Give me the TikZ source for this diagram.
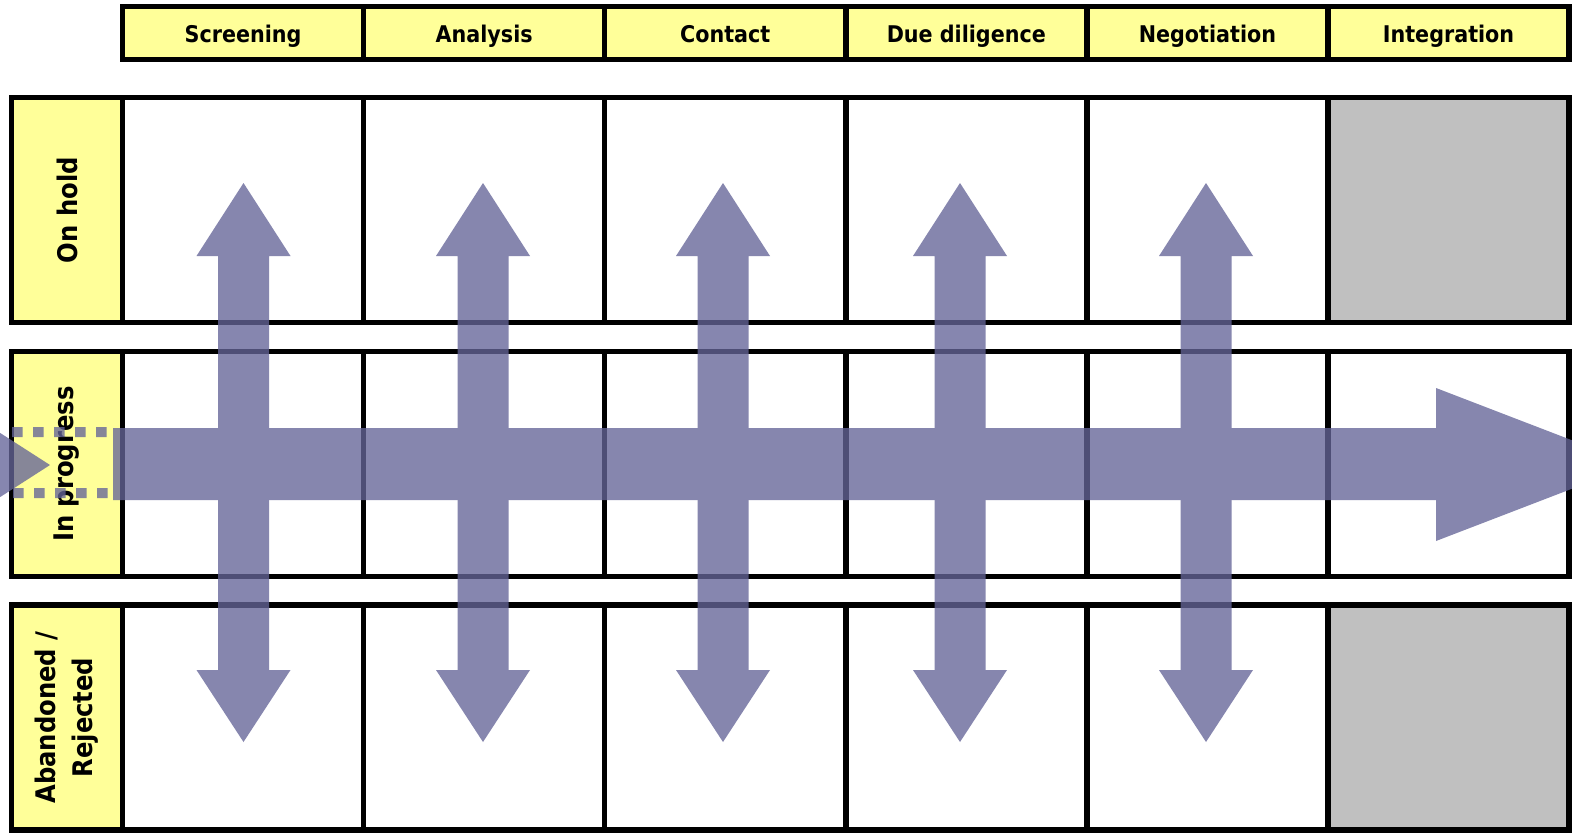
\documentclass[tikz,border=0pt]{standalone}
\usepackage{fontspec}
\setmainfont{DejaVu Sans Condensed}
\usetikzlibrary{calc}
\definecolor{hdrY}{HTML}{FFFF99}
\definecolor{grayC}{HTML}{C0C0C0}
\definecolor{arrC}{RGB}{100,100,152}
\begin{document}
\begin{tikzpicture}[x=1pt,y=-1pt,
  hdrcell/.style={draw=black, line width=5.5pt, fill=hdrY, minimum width=241.1pt, minimum height=53pt,
    inner sep=0pt, outer sep=0pt, anchor=north west, text height=17pt, text depth=0pt,
    font=\bfseries\fontsize{23}{27}\selectfont},
  cellbox/.style={draw=black, line width=5.5pt, fill=white, minimum width=241.1pt, minimum height=225pt,
    inner sep=0pt, outer sep=0pt, anchor=north west},
  lanebox/.style={draw=black, line width=5.5pt, fill=hdrY, minimum width=225pt, minimum height=111pt,
    inner sep=0pt, outer sep=0pt, rotate=90, align=center, font=\bfseries\fontsize{27}{37}\selectfont},
  arrfill/.style={fill=arrC},
  dots/.style={draw=arrC, line width=10pt, dash pattern=on 10.5pt off 10.5pt}
]
\useasboundingbox (0,0) rectangle (1572,835);
% header
\foreach \t [count=\i from 0] in {Screening,Analysis,Contact,Due diligence,Negotiation,Integration}{
  \node[hdrcell] (hdr\i) at ({122.5+241.1*\i},6.5) {\raisebox{-1.5pt}{\t}};
}
% rows
\foreach \r/\y in {1/97.5,2/351.5,3/605}{
  \foreach \i in {0,...,5}{
    \node[cellbox] (c\r\i) at ({122.5+241.1*\i},\y) {};
  }
}
\node[cellbox, fill=grayC] (c15) at ({122.5+241.1*5},97.5) {};
\node[cellbox, fill=grayC] (c35) at ({122.5+241.1*5},605) {};
% lane labels
\node[lanebox] (lane1) at (67,210) {On hold};
\node[lanebox] (lane2) at (67,464) {In progress};
\node[lanebox] (lane3) at (67,717.5) {Abandoned /\\Rejected};
% arrows
\begin{scope}[transparency group, opacity=0.78]
  \clip (0,0) rectangle (1572,835);
  \fill[arrfill] (113,428) -- (1436,428) -- (1436,388) -- (1635,464.5) -- (1436,541) -- (1436,500) -- (113,500) -- cycle;
  \fill[arrfill] (-20,420) -- (50,465) -- (-20,510) -- cycle;
  \draw[dots] (12,432) -- (110,432);
  \draw[dots] (13,493) -- (112,493);
  \foreach \x in {243.5,483,723,960,1206}{
    \fill[arrfill] (\x-25.5,256) -- (\x-47,256) -- (\x,183) -- (\x+47,256) -- (\x+25.5,256)
      -- (\x+25.5,670) -- (\x+47,670) -- (\x,742) -- (\x-47,670) -- (\x-25.5,670) -- cycle;
  }
\end{scope}
\end{tikzpicture}
\end{document}
